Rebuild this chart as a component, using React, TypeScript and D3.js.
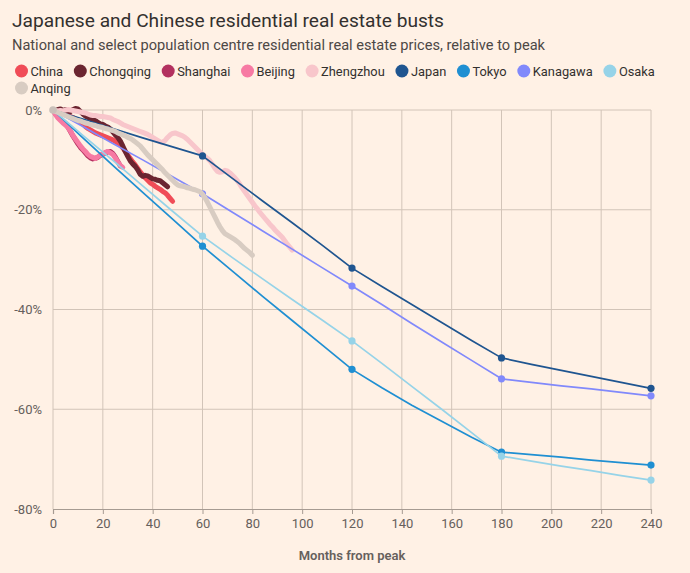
import React, { useEffect, useRef } from 'react';
import * as d3 from 'd3';

const WIDTH = 690;
const HEIGHT = 573;

// Japanese series: annual readings, months from peak
const japanMonths = [0, 12, 24, 36, 48, 60, 72, 84, 96, 108, 120, 132, 144, 156, 168, 180, 192, 204, 216, 228, 240];
const japanValues = [0, -1.8, -3.7, -5.6, -7.4, -9.2, -13.7, -18.2, -22.6, -27.1, -31.7, -35.4, -39.0, -42.6, -46.2, -49.7, -51.0, -52.2, -53.4, -54.6, -55.8];
const tokyoValues = [0, -5.6, -11.1, -16.5, -21.9, -27.3, -32.3, -37.3, -42.2, -47.1, -52.0, -55.7, -59.2, -62.4, -65.6, -68.6, -69.1, -69.6, -70.2, -70.7, -71.2];
const kanagawaValues = [0, -3.3, -6.7, -10.0, -13.4, -16.8, -20.5, -24.2, -27.9, -31.6, -35.3, -39.0, -42.8, -46.5, -50.2, -53.9, -54.6, -55.3, -55.9, -56.6, -57.3];
const osakaValues = [0, -5.1, -10.1, -15.2, -20.3, -25.3, -29.6, -33.8, -38.0, -42.1, -46.3, -50.8, -55.4, -60.0, -64.7, -69.4, -70.4, -71.4, -72.3, -73.3, -74.2];
const japanMarkerMonths = [60, 120, 180, 240];

// Chinese series: one value per month from peak (index = month)
const chinaValues = [
    0, -0.2, -0.3, -0.5, -0.7, -0.8, -1.0, -1.3, -1.5, -1.8, -2.2, -2.5, -2.8, -3.3, -3.7, -4.0,
    -4.3, -4.6, -4.8, -5.0, -5.2, -5.4, -5.6, -5.8, -6.0, -6.3, -6.6, -7.0, -7.6, -8.3, -9.0, -9.7,
    -10.4, -11.0, -11.7, -12.4, -13.0, -13.6, -14.1, -14.6, -14.9, -15.3, -15.6, -15.9, -16.3, -16.6, -17.1, -17.7, -18.3,
];
const chongqingValues = [
    0, -0.3, 0.1, 0.2, -0.1, 0.1, -0.2, -0.3, 0.1, 0.3, 0.2, -0.3, -0.8, -1.2, -1.5, -1.7,
    -1.9, -2.1, -2.5, -2.8, -2.9, -3.2, -3.4, -3.8, -4.4, -5.0, -5.5, -6.2, -7.2, -8.3, -9.3, -10.2,
    -10.8, -11.3, -12.0, -12.9, -13.3, -13.1, -13.2, -13.5, -13.8, -13.9, -14.1, -14.2, -14.6, -15.0, -15.4,
];
const shanghaiValues = [
    0, -0.8, -1.4, -1.9, -2.3, -2.7, -3.4, -4.3, -5.2, -6.0, -6.8, -7.5, -8.0, -8.6,
    -9.2, -9.6, -9.8, -9.7, -9.5, -9.1, -8.9, -8.6, -8.4, -8.3, -8.7, -9.4, -10.3, -11.2,
];
const beijingValues = [
    0, -0.9, -1.6, -2.1, -2.6, -3.0, -3.5, -4.2, -5.1, -5.8, -6.5, -7.2, -7.8, -8.3,
    -8.9, -9.3, -9.5, -9.7, -9.4, -9.0, -8.8, -8.5, -8.3, -8.6, -8.9, -9.6, -10.4, -11.1, -11.5,
];
const zhengzhouValues = [
    0, -0.1, -0.2, -0.1, -0.2, 0.0, 0.1, 0.0, -0.1, -0.2, -0.3, -0.4, -0.5, -0.6, -0.8, -1.0,
    -1.1, -1.1, -1.2, -1.3, -1.3, -1.4, -1.5, -1.6, -1.9, -2.1, -2.3, -2.6, -2.9, -3.1, -3.3, -3.5,
    -3.7, -3.9, -4.1, -4.3, -4.5, -4.7, -4.9, -5.2, -5.5, -5.8, -6.1, -6.4, -6.5, -6.1, -5.5, -5.0,
    -4.7, -4.6, -4.8, -5.0, -5.2, -5.5, -5.9, -6.4, -6.9, -7.4, -7.9, -8.4, -8.9, -9.3, -9.7, -10.2,
    -10.9, -11.7, -12.3, -12.5, -12.4, -12.1, -12.2, -12.6, -13.1, -13.6, -14.2, -14.9, -15.7, -16.4, -17.1, -17.8,
    -18.5, -19.2, -19.8, -20.5, -21.1, -21.7, -22.3, -22.9, -23.4, -24.0, -24.5, -25.0, -25.5, -26.2, -26.9, -27.5, -28.1,
];
const anqingValues = [
    0, -0.3, -0.5, -0.7, -0.9, -1.1, -1.3, -1.5, -1.7, -1.9, -2.1, -2.2, -2.4, -2.6, -2.7, -2.9,
    -3.0, -3.1, -3.3, -3.4, -3.5, -3.7, -3.8, -4.0, -4.1, -4.3, -4.6, -4.8, -5.0, -5.2, -5.5, -5.7,
    -6.0, -6.4, -6.8, -7.2, -7.8, -8.4, -9.0, -9.5, -10.0, -10.5, -11.0, -11.5, -12.0, -12.6, -13.1, -13.6,
    -14.1, -14.6, -15.0, -15.2, -15.3, -15.4, -15.6, -15.7, -15.9, -16.0, -16.2, -16.4, -16.9, -17.6, -18.5, -19.5,
    -20.5, -21.5, -22.5, -23.4, -24.2, -24.8, -25.1, -25.4, -25.7, -26.0, -26.4, -26.8, -27.3, -27.8, -28.2, -28.6, -29.1,
];

const xTicks = [0, 20, 40, 60, 80, 100, 120, 140, 160, 180, 200, 220, 240];
const yTicks = [0, -20, -40, -60, -80];

interface Series {
    name: string;
    color: string;
    kind: 'china' | 'japan';
    months: number[];
    values: number[];
}

const monthIndex = (values: number[]) => values.map((_, i) => i);

// legend order is also drawing order
const SERIES: Series[] = [
    { name: 'China', color: '#f04c57', kind: 'china', months: monthIndex(chinaValues), values: chinaValues },
    { name: 'Chongqing', color: '#6b2530', kind: 'china', months: monthIndex(chongqingValues), values: chongqingValues },
    { name: 'Shanghai', color: '#b3315f', kind: 'china', months: monthIndex(shanghaiValues), values: shanghaiValues },
    { name: 'Beijing', color: '#f77aa3', kind: 'china', months: monthIndex(beijingValues), values: beijingValues },
    { name: 'Zhengzhou', color: '#f8c6cb', kind: 'china', months: monthIndex(zhengzhouValues), values: zhengzhouValues },
    { name: 'Japan', color: '#1f5590', kind: 'japan', months: japanMonths, values: japanValues },
    { name: 'Tokyo', color: '#1f8fd2', kind: 'japan', months: japanMonths, values: tokyoValues },
    { name: 'Kanagawa', color: '#8189fb', kind: 'japan', months: japanMonths, values: kanagawaValues },
    { name: 'Osaka', color: '#96d3e8', kind: 'japan', months: japanMonths, values: osakaValues },
    { name: 'Anqing', color: '#d8ccc2', kind: 'china', months: monthIndex(anqingValues), values: anqingValues },
];

const FONT = 'Roboto, "Noto Sans", sans-serif';

export default function App() {
    const svgRef = useRef<SVGSVGElement>(null);

    useEffect(() => {
        document.body.style.margin = '0';
        document.body.style.background = '#fff1e5';
        if (!svgRef.current) return;

        const svg = d3.select(svgRef.current);
        svg.selectAll('*').remove();

        const margin = { top: 110, right: 39, bottom: 64, left: 53 };

        const x = d3.scaleLinear()
            .domain([0, 240])
            .range([margin.left, WIDTH - margin.right]);

        const y = d3.scaleLinear()
            .domain([0, -80])
            .range([margin.top, HEIGHT - margin.bottom]);

        svg.append('rect')
            .attr('width', WIDTH)
            .attr('height', HEIGHT)
            .attr('fill', '#fff1e5');

        // header
        svg.append('text')
            .attr('x', 12)
            .attr('y', 27)
            .attr('font-family', FONT)
            .attr('font-size', 18.5)
            .attr('fill', '#33302e')
            .attr('textLength', 432)
            .attr('lengthAdjust', 'spacingAndGlyphs')
            .text('Japanese and Chinese residential real estate busts');

        svg.append('text')
            .attr('x', 12)
            .attr('y', 50)
            .attr('font-family', FONT)
            .attr('font-size', 14.5)
            .attr('fill', '#4d4845')
            .attr('textLength', 533)
            .attr('lengthAdjust', 'spacingAndGlyphs')
            .text('National and select population centre residential real estate prices, relative to peak');

        // legend, flowed left to right and wrapped
        const legend = svg.append('g');
        let lx = 15;
        let ly = 71;
        SERIES.forEach(s => {
            const item = legend.append('g');
            item.append('circle')
                .attr('r', 6.5)
                .attr('fill', s.color);
            const label = item.append('text')
                .attr('x', 9)
                .attr('y', 4.7)
                .attr('font-family', FONT)
                .attr('font-size', 13.5)
                .attr('fill', '#33302e')
                .text(s.name);
            // squeeze slightly to mimic the narrow house font
            const natural = (label.node() as SVGTextElement).getComputedTextLength();
            const w = natural * 0.95;
            label.attr('textLength', w).attr('lengthAdjust', 'spacingAndGlyphs');
            const itemWidth = 9 + w + 10.7;
            if (lx + 6.5 + itemWidth > WIDTH - 18) {
                lx = 15;
                ly += 17;
            }
            item.attr('transform', `translate(${lx + 6.5},${ly})`);
            lx += 6.5 + itemWidth;
        });

        // grid
        const grid = svg.append('g').attr('stroke', '#d2c4b8').attr('stroke-width', 1);
        grid.selectAll('line.v')
            .data(xTicks)
            .join('line')
            .attr('x1', d => x(d))
            .attr('x2', d => x(d))
            .attr('y1', y(0))
            .attr('y2', y(-80));
        grid.selectAll('line.h')
            .data(yTicks.filter(d => d !== -80))
            .join('line')
            .attr('class', 'h')
            .attr('x1', x(0))
            .attr('x2', x(240))
            .attr('y1', d => y(d))
            .attr('y2', d => y(d));

        // y labels
        svg.append('g')
            .selectAll('text')
            .data(yTicks)
            .join('text')
            .attr('x', 42)
            .attr('y', d => y(d) + 4.5)
            .attr('text-anchor', 'end')
            .attr('font-family', FONT)
            .attr('font-size', 13)
            .attr('fill', '#66605c')
            .text(d => `${d}%`);

        // x axis
        const xAxis = svg.append('g')
            .attr('transform', `translate(0,${y(-80)})`)
            .call(d3.axisBottom(x).tickValues(xTicks).tickSize(5).tickPadding(5).tickFormat(d => `${d}`));
        xAxis.select('.domain').attr('stroke', '#a69b92').attr('stroke-width', 1.2);
        xAxis.selectAll('.tick line').attr('stroke', '#a69b92');
        xAxis.selectAll('.tick text')
            .attr('font-family', FONT)
            .attr('font-size', 13)
            .attr('fill', '#66605c');

        svg.append('text')
            .attr('x', (x(0) + x(240)) / 2)
            .attr('y', 560)
            .attr('text-anchor', 'middle')
            .attr('font-family', FONT)
            .attr('font-size', 13)
            .attr('font-weight', 600)
            .attr('fill', '#66605c')
            .text('Months from peak');

        // series
        const line = d3.line<[number, number]>()
            .x(d => x(d[0]))
            .y(d => y(d[1]));

        const plot = svg.append('g');
        SERIES.forEach(s => {
            const pts: [number, number][] = s.months.map((m, i) => [m, s.values[i]]);
            const isChina = s.kind === 'china';
            plot.append('path')
                .datum(pts)
                .attr('d', line)
                .attr('fill', 'none')
                .attr('stroke', s.color)
                .attr('stroke-width', isChina ? 5 : 1.7)
                .attr('stroke-linejoin', 'round')
                .attr('stroke-linecap', 'round');
            if (!isChina) {
                plot.append('g')
                    .selectAll('circle')
                    .data(pts.filter(p => japanMarkerMonths.includes(p[0])))
                    .join('circle')
                    .attr('cx', d => x(d[0]))
                    .attr('cy', d => y(d[1]))
                    .attr('r', 3.6)
                    .attr('fill', s.color);
            }
        });

        // start marker for the last-drawn series
        const last = SERIES[SERIES.length - 1];
        plot.append('circle')
            .attr('cx', x(last.months[0]))
            .attr('cy', y(last.values[0]))
            .attr('r', 3.8)
            .attr('fill', '#c9c0b9');
    }, []);

    return (
        <svg
            ref={svgRef}
            width={WIDTH}
            height={HEIGHT}
            viewBox={`0 0 ${WIDTH} ${HEIGHT}`}
            style={{ display: 'block' }}
        />
    );
}
